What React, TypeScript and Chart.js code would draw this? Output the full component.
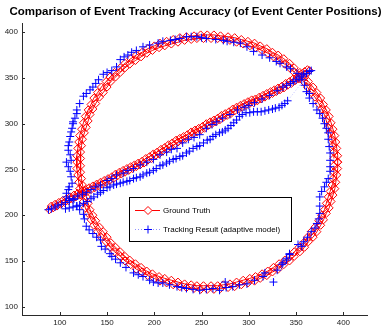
import { useEffect, useRef } from "react";
import { Chart, registerables } from "chart.js";

Chart.register(...registerables);

const TITLE = "Comparison of Event Tracking Accuracy (of Event Center Positions)";
const LEGEND_LABELS = ["Ground Truth", "Tracking Result (adaptive model)"];
const X_TICKS = [100, 150, 200, 250, 300, 350, 400];
const Y_TICKS = [100, 150, 200, 250, 300, 350, 400];
const X_MIN = 60;
const X_MAX = 425;
const Y_MIN = 91;
const Y_MAX = 410;

// Ground truth: straight-ish path, outward pass
const groundTruthLine: number[][] = [
  [89, 206], [93, 208], [97, 210], [101, 212], [105, 214], [109, 216], [113, 218], [117, 220],
  [121, 222], [125, 224], [129, 226], [133, 228], [137, 230], [141, 232], [145, 234], [149, 236],
  [153, 238], [157, 240], [161, 243], [165, 245], [169, 247], [173, 249], [177, 251], [181, 253],
  [185, 255], [189, 257], [193, 260], [197, 262], [201, 265], [205, 267], [209, 270], [213, 272],
  [217, 275], [221, 277], [225, 280], [229, 282], [233, 284], [237, 286], [241, 289], [245, 291],
  [249, 293], [253, 295], [257, 298], [261, 300], [265, 302], [269, 304], [273, 307], [277, 309],
  [281, 311], [285, 314], [289, 316], [293, 318], [297, 320], [301, 322], [305, 323], [309, 325],
  [313, 327], [317, 329], [321, 331], [325, 333], [329, 335], [333, 337], [337, 339], [341, 342],
  [345, 344], [349, 347], [353, 349], [357, 352], [361, 355], [364, 358],
];

// Ground truth: straight-ish path, return pass
const groundTruthLineBack: number[][] = [
  [362, 359], [359, 357], [355, 354], [351, 351], [347, 349], [343, 346], [339, 344], [335, 341],
  [331, 339], [327, 337], [323, 335], [319, 333], [315, 331], [311, 329], [307, 327], [303, 326],
  [299, 324], [295, 322], [291, 320], [287, 318], [283, 316], [279, 313], [275, 311], [271, 309],
  [267, 306], [263, 304], [259, 302], [255, 300], [251, 297], [247, 295], [243, 293], [239, 291],
  [235, 288], [231, 286], [227, 284], [223, 282], [219, 279], [215, 277], [211, 274], [207, 272],
  [203, 269], [199, 267], [195, 264], [191, 262], [187, 259], [183, 257], [179, 255], [175, 253],
  [171, 251], [167, 249], [163, 247], [159, 245], [155, 242], [151, 240], [147, 238], [143, 236],
  [139, 234], [135, 232], [131, 230], [127, 228], [123, 226], [119, 224], [115, 222], [111, 220],
  [107, 218], [103, 216], [99, 214], [95, 212], [91, 210],
];

// Ground truth: circular path, first lap
const groundTruthCircle: number[][] = [
  [394, 258], [394, 265], [393, 273], [392, 280], [391, 287], [389, 294], [387, 301], [385, 308],
  [382, 315], [379, 321], [376, 328], [372, 334], [368, 340], [363, 346], [359, 351], [354, 356],
  [348, 361], [343, 366], [337, 371], [331, 375], [325, 378], [319, 382], [312, 385], [306, 388],
  [299, 390], [292, 392], [285, 394], [278, 395], [270, 396], [263, 397], [256, 397], [249, 397],
  [242, 396], [234, 395], [227, 394], [220, 392], [213, 390], [206, 388], [200, 385], [193, 382],
  [187, 378], [181, 375], [175, 371], [169, 366], [164, 361], [158, 356], [153, 351], [149, 346],
  [144, 340], [140, 334], [136, 328], [133, 321], [130, 315], [127, 308], [125, 301], [123, 294],
  [121, 287], [120, 280], [119, 273], [118, 265], [118, 258], [118, 251], [119, 244], [120, 236],
  [121, 229], [123, 222], [125, 215], [127, 208], [130, 202], [133, 195], [136, 189], [140, 182],
  [144, 176], [149, 171], [153, 165], [158, 160], [164, 155], [169, 150], [175, 146], [181, 141],
  [187, 138], [193, 134], [200, 131], [206, 128], [213, 126], [220, 124], [227, 122], [234, 121],
  [242, 120], [249, 119], [256, 119], [263, 119], [270, 120], [278, 121], [285, 122], [292, 124],
  [299, 126], [306, 128], [312, 131], [319, 134], [325, 138], [331, 141], [337, 146], [343, 150],
  [348, 155], [354, 160], [359, 165], [363, 171], [368, 176], [372, 182], [376, 189], [379, 195],
  [382, 202], [385, 208], [387, 215], [389, 222], [391, 229], [392, 236], [393, 244], [394, 251],
  [394, 258],
];

// Ground truth: circular path, second lap (slightly inside the first)
const groundTruthCircleLap2: number[][] = [
  [390, 262], [390, 269], [389, 276], [388, 283], [386, 290], [384, 296], [382, 303], [380, 310],
  [377, 316], [374, 322], [370, 329], [366, 334], [362, 340], [358, 346], [353, 351], [348, 356],
  [343, 361], [338, 365], [332, 369], [326, 373], [320, 377], [314, 380], [307, 383], [301, 385],
  [294, 387], [287, 389], [280, 391], [273, 392], [267, 393], [260, 393], [252, 393], [245, 393],
  [239, 392], [232, 391], [225, 389], [218, 387], [211, 385], [205, 383], [198, 380], [192, 377],
  [186, 373], [180, 369], [174, 365], [169, 361], [164, 356], [159, 351], [154, 346], [150, 340],
  [146, 334], [142, 329], [138, 322], [135, 316], [132, 310], [130, 303], [128, 296], [126, 290],
  [124, 283], [123, 276], [122, 269], [122, 262], [122, 254], [122, 247], [123, 240], [124, 233],
  [126, 226], [128, 220], [130, 213], [132, 206], [135, 200], [138, 194], [142, 187], [146, 182],
  [150, 176], [154, 170], [159, 165], [164, 160], [169, 155], [174, 151], [180, 147], [186, 143],
  [192, 139], [198, 136], [205, 133], [211, 131], [218, 129], [225, 127], [232, 125], [239, 124],
  [245, 123], [252, 123], [260, 123], [267, 123], [273, 124], [280, 125], [287, 127], [294, 129],
  [301, 131], [307, 133], [314, 136], [320, 139], [326, 143], [332, 147], [338, 151], [343, 155],
  [348, 160], [353, 165], [358, 170], [362, 176], [366, 182], [370, 187], [374, 194], [377, 200],
  [380, 206], [382, 213], [384, 220], [386, 226], [388, 233], [389, 240], [390, 247], [390, 254],
];

// Tracking result along the straight path (out on the line, back on the lower branch)
const trackingLine: number[][] = [
  [88, 206], [91, 207], [95, 209], [98, 211], [102, 212], [106, 214], [110, 216], [115, 218],
  [119, 221], [124, 223], [128, 225], [133, 228], [138, 231], [143, 233], [150, 238], [155, 240],
  [160, 244], [167, 246], [172, 249], [178, 251], [185, 255], [192, 258], [199, 261], [206, 266],
  [213, 269], [218, 272], [224, 273], [230, 279], [236, 283], [242, 285], [248, 288], [255, 295],
  [261, 299], [266, 302], [272, 306], [280, 310], [288, 315], [295, 318], [300, 320], [306, 323],
  [314, 327], [322, 331], [330, 336], [336, 340], [340, 342], [344, 344], [347, 346], [350, 348],
  [353, 350], [356, 352], [358, 354], [361, 355], [364, 357], [366, 358],
  [341, 325], [338, 322], [335, 320], [332, 318], [328, 317], [325, 316], [321, 315], [317, 314],
  [313, 313], [309, 313], [305, 313], [301, 312], [297, 312], [293, 310], [290, 308], [287, 304],
  [284, 301], [281, 298], [278, 295], [275, 293], [272, 291], [269, 290], [265, 288], [262, 286],
  [259, 283], [256, 282], [252, 279], [248, 276], [245, 275], [241, 273], [237, 270], [234, 268],
  [230, 265], [227, 264], [223, 262], [220, 261], [216, 259], [213, 257], [209, 255], [206, 254],
  [202, 251], [199, 249], [195, 247], [192, 246], [188, 244], [185, 242], [181, 241], [178, 240],
  [174, 238], [171, 237], [167, 236], [164, 235], [160, 234], [157, 233], [153, 231], [150, 230],
  [146, 227], [143, 225], [140, 223], [136, 220], [133, 218], [129, 215], [125, 213], [121, 211],
  [118, 210], [114, 209], [110, 208], [106, 207],
];

// Tracking result along the circular path
const trackingCircle: number[][] = [
  [364, 333], [361, 335], [359, 342], [356, 348], [351, 355], [344, 360], [340, 362], [333, 366],
  [329, 368], [322, 372], [314, 375], [305, 379], [298, 384], [291, 388], [284, 389], [277, 390],
  [273, 391], [265, 392], [255, 393], [250, 394], [245, 395], [239, 395], [234, 395], [227, 393],
  [222, 392], [217, 391], [209, 390], [204, 388], [195, 386], [188, 384], [181, 380], [176, 378],
  [172, 375], [168, 373], [164, 370], [160, 362], [155, 358], [150, 356], [146, 354], [141, 348],
  [138, 344], [135, 340], [132, 337], [128, 333], [125, 330], [121, 322], [118, 315], [118, 311],
  [116, 306], [114, 302], [114, 300], [113, 295], [112, 291], [111, 286], [110, 280], [109, 276],
  [109, 271], [111, 266], [112, 260], [107, 258], [109, 253], [111, 248], [112, 242], [113, 235],
  [110, 231], [109, 228], [107, 224], [107, 220], [110, 218], [114, 217], [118, 210], [121, 206],
  [125, 201], [126, 196], [128, 188], [131, 184], [135, 180], [139, 176], [143, 173], [144, 166],
  [148, 163], [153, 158], [155, 155], [159, 152], [164, 148], [170, 143], [178, 137], [183, 135],
  [188, 133], [195, 129], [199, 127], [204, 126], [209, 126], [216, 124], [224, 122], [229, 121],
  [234, 120], [241, 119], [248, 118], [255, 119], [262, 120], [269, 118], [275, 127], [276, 121],
  [283, 122], [290, 124], [298, 125], [306, 129], [315, 133], [317, 137], [326, 127], [330, 140],
  [335, 146], [336, 148], [340, 151], [340, 153], [343, 157], [343, 158], [352, 168], [356, 166],
  [358, 171], [362, 176], [366, 182], [370, 186], [372, 191], [374, 196], [375, 202], [375, 210],
  [375, 220], [377, 226], [380, 231], [382, 236], [384, 240], [386, 248], [386, 253], [386, 260],
  [386, 268], [385, 275], [384, 283], [384, 290], [382, 295], [380, 300], [378, 306], [375, 311],
  [372, 315], [368, 322], [364, 328],
];

const RED = "#ff0000";
const BLUE = "#0000ff";
const BLUE_DOTS = "rgba(80,80,255,0.35)";
const AXIS = "#2a2a2a";
const FONT = "'Liberation Sans', Arial, Helvetica, sans-serif";

const toPoints = (arr: number[][]) => arr.map(([x, y]) => ({ x, y }));

const decorPlugin = {
  id: "decor",
  afterDatasetsDraw(chart: any) {
    const { ctx, chartArea } = chart;
    const xs = chart.scales.x;
    const ys = chart.scales.y;
    ctx.save();
    // inward tick marks
    ctx.strokeStyle = AXIS;
    ctx.lineWidth = 1;
    for (const v of X_TICKS) {
      const px = Math.round(xs.getPixelForValue(v)) + 0.5;
      ctx.beginPath();
      ctx.moveTo(px, chartArea.bottom);
      ctx.lineTo(px, chartArea.bottom - 3);
      ctx.stroke();
    }
    for (const v of Y_TICKS) {
      const py = Math.round(ys.getPixelForValue(v)) + 0.5;
      ctx.beginPath();
      ctx.moveTo(chartArea.left, py);
      ctx.lineTo(chartArea.left + 3, py);
      ctx.stroke();
    }

    // legend box
    const bx = 129.5, by = 197.5, bw = 162, bh = 44;
    ctx.fillStyle = "#ffffff";
    ctx.fillRect(bx, by, bw, bh);
    ctx.strokeStyle = "#000000";
    ctx.lineWidth = 1;
    ctx.strokeRect(bx, by, bw, bh);

    const r1 = 210.5, r2 = 229.5, lx0 = 135, lx1 = 160, mx = 148;
    // ground truth entry
    ctx.strokeStyle = RED;
    ctx.beginPath();
    ctx.moveTo(lx0, r1);
    ctx.lineTo(lx1, r1);
    ctx.stroke();
    ctx.fillStyle = "#ffffff";
    ctx.beginPath();
    ctx.moveTo(mx - 4, r1);
    ctx.lineTo(mx, r1 - 4);
    ctx.lineTo(mx + 4, r1);
    ctx.lineTo(mx, r1 + 4);
    ctx.closePath();
    ctx.fill();
    ctx.stroke();
    // tracking entry
    ctx.strokeStyle = "#9090ff";
    ctx.setLineDash([1, 2]);
    ctx.beginPath();
    ctx.moveTo(lx0, r2);
    ctx.lineTo(lx1, r2);
    ctx.stroke();
    ctx.setLineDash([]);
    ctx.strokeStyle = BLUE;
    ctx.beginPath();
    ctx.moveTo(mx - 4, r2);
    ctx.lineTo(mx + 4, r2);
    ctx.moveTo(mx, r2 - 4);
    ctx.lineTo(mx, r2 + 4);
    ctx.stroke();

    ctx.fillStyle = "#000000";
    ctx.font = `8px ${FONT}`;
    ctx.textAlign = "left";
    ctx.textBaseline = "middle";
    ctx.fillText(LEGEND_LABELS[0], 163, r1);
    ctx.fillText(LEGEND_LABELS[1], 163, r2);

    // title
    ctx.font = `bold 11.5px ${FONT}`;
    ctx.textAlign = "center";
    ctx.textBaseline = "middle";
    ctx.fillText(TITLE, 195.5, 12);
    ctx.restore();
  },
};

const trackingStyle = (order: number) => ({
  showLine: true,
  borderColor: BLUE_DOTS,
  borderWidth: 1,
  borderDash: [1, 2],
  pointStyle: "cross" as const,
  pointRadius: 4,
  pointBorderColor: BLUE,
  pointBorderWidth: 1,
  order,
});

const truthStyle = (order: number) => ({
  showLine: true,
  borderColor: RED,
  borderWidth: 1,
  pointStyle: "rectRot" as const,
  pointRadius: 4,
  pointBorderColor: RED,
  pointBackgroundColor: "rgba(0,0,0,0)",
  pointBorderWidth: 1,
  order,
});

export default function App() {
  const canvasRef = useRef<HTMLCanvasElement | null>(null);

  useEffect(() => {
    const canvas = canvasRef.current;
    if (!canvas) return;
    const chart = new Chart(canvas, {
      type: "scatter",
      data: {
        datasets: [
          { label: LEGEND_LABELS[1], data: toPoints(trackingLine), ...trackingStyle(0) },
          { label: LEGEND_LABELS[1], data: toPoints(trackingCircle), ...trackingStyle(1) },
          { label: LEGEND_LABELS[0], data: toPoints(groundTruthLine), ...truthStyle(2) },
          { label: LEGEND_LABELS[0], data: toPoints(groundTruthLineBack), ...truthStyle(3) },
          { label: LEGEND_LABELS[0], data: toPoints(groundTruthCircle), ...truthStyle(4) },
          { label: LEGEND_LABELS[0], data: toPoints(groundTruthCircleLap2), ...truthStyle(5) },
        ],
      },
      options: {
        animation: false,
        responsive: false,
        devicePixelRatio: 1,
        layout: { padding: { top: 23, right: 16, left: 0, bottom: 0 } },
        plugins: {
          legend: { display: false },
          title: { display: false },
          tooltip: { enabled: false },
        },
        scales: {
          x: {
            type: "linear",
            min: X_MIN,
            max: X_MAX,
            grid: { display: false, drawTicks: false },
            border: { display: true, color: AXIS, width: 1 },
            ticks: {
              font: { family: FONT, size: 8 },
              color: "#222222",
              padding: 3,
              maxRotation: 0,
              autoSkip: false,
            },
            afterBuildTicks: (s: any) => {
              s.ticks = X_TICKS.map((v) => ({ value: v }));
            },
            afterFit: (s: any) => {
              s.height = 13;
            },
          },
          y: {
            type: "linear",
            min: Y_MIN,
            max: Y_MAX,
            grid: { display: false, drawTicks: false },
            border: { display: true, color: AXIS, width: 1 },
            ticks: {
              font: { family: FONT, size: 8 },
              color: "#222222",
              padding: 4,
              autoSkip: false,
            },
            afterBuildTicks: (s: any) => {
              s.ticks = Y_TICKS.map((v) => ({ value: v }));
            },
            afterFit: (s: any) => {
              s.width = 22;
            },
          },
        },
      },
      plugins: [decorPlugin],
    });
    return () => chart.destroy();
  }, []);

  return (
    <div style={{ position: "absolute", left: 0, top: 0, width: 383, height: 328, background: "#fff" }}>
      <canvas ref={canvasRef} width={383} height={328} style={{ display: "block" }} />
    </div>
  );
}
